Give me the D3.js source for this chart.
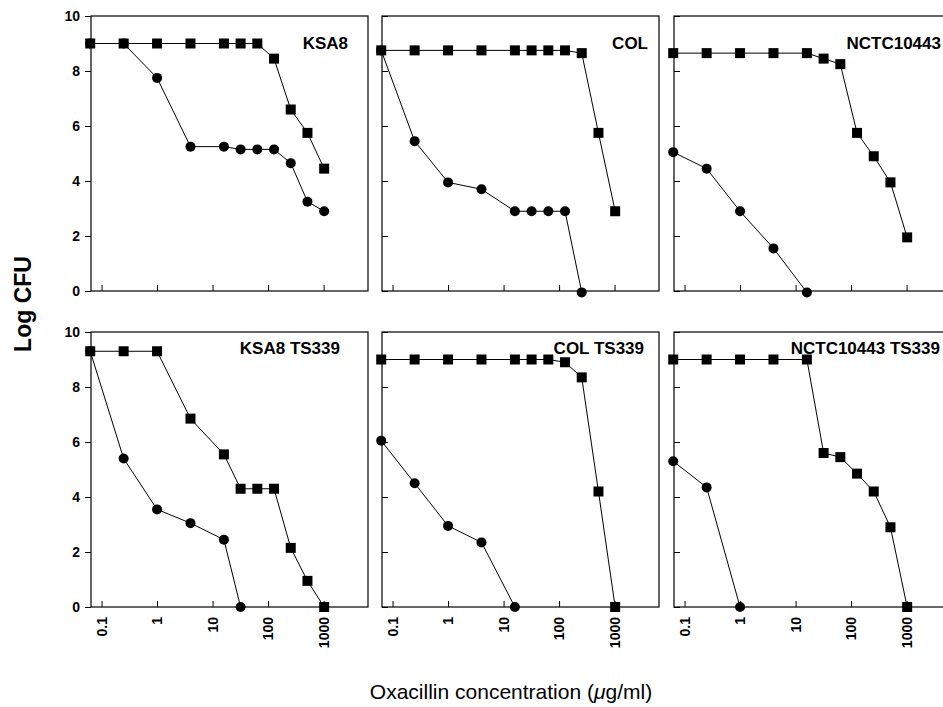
<!DOCTYPE html>
<html>
<head>
<meta charset="utf-8">
<script src="https://cdn.jsdelivr.net/npm/d3@7"></script>
<style>
  body { margin: 0; background: #fff; }
  svg text { font-family: "Liberation Sans", Arial, Helvetica, sans-serif; fill: #000; }
</style>
</head>
<body>
<script>

// oxacillin concentrations (ug/ml), same for every panel
var conc = [0.0625, 0.25, 1, 4, 16, 32, 64, 128, 256, 512, 1024]

var titles = ["KSA8", "COL", "NCTC10443", "KSA8 TS339", "COL TS339", "NCTC10443 TS339"]

// squares
var ksa8_sq = [9.0, 9.0, 9.0, 9.0, 9.0, 9.0, 9.0, 8.45, 6.6, 5.75, 4.45]
var col_sq = [8.75, 8.75, 8.75, 8.75, 8.75, 8.75, 8.75, 8.75, 8.65, 5.75, 2.9]
var nctc_sq = [8.65, 8.65, 8.65, 8.65, 8.65, 8.45, 8.25, 5.75, 4.9, 3.95, 1.95]
var ksa8ts_sq = [9.3, 9.3, 9.3, 6.85, 5.55, 4.3, 4.3, 4.3, 2.15, 0.95, 0]
var colts_sq = [9.0, 9.0, 9.0, 9.0, 9.0, 9.0, 9.0, 8.9, 8.35, 4.2, 0]
var nctcts_sq = [9.0, 9.0, 9.0, 9.0, 9.0, 5.6, 5.45, 4.85, 4.2, 2.9, 0]

// circles (series stop once they reach 0)
var ksa8_ci = [9.0, 9.0, 7.75, 5.25, 5.25, 5.15, 5.15, 5.15, 4.65, 3.25, 2.9]
var col_ci = [8.75, 5.45, 3.95, 3.7, 2.9, 2.9, 2.9, 2.9, -0.05]
var nctc_ci = [5.05, 4.45, 2.9, 1.55, -0.05]
var ksa8ts_ci = [9.3, 5.4, 3.55, 3.05, 2.45, 0]
var colts_ci = [6.05, 4.5, 2.95, 2.35, 0]
var nctcts_ci = [5.3, 4.35, 0]

var squares = [ksa8_sq, col_sq, nctc_sq, ksa8ts_sq, colts_sq, nctcts_sq]
var circles = [ksa8_ci, col_ci, nctc_ci, ksa8ts_ci, colts_ci, nctcts_ci]

var xTicks = [0.1, 1, 10, 100, 1000]
var yTicks = [0, 2, 4, 6, 8, 10]

// layout
var colX = [91, 382, 674], rowY = [16, 332]
var pw = 277, ph = 275
var titleInset = [20, 11, 10, 28, 15, 11]

var svg = d3.select("body").append("svg")
    .attr("width", 943)
    .attr("height", 707)

var x = d3.scaleLog()
    .domain([Math.pow(10, -1.19), Math.pow(10, 3.8)])
    .range([0, pw])
var y = d3.scaleLinear()
    .domain([0, 10])
    .range([ph, 0])

var line = d3.line()
    .x(function(d) { return x(d[0]); })
    .y(function(d) { return y(d[1]); })

titles.forEach(function(t, i) {
  var col = i % 3, row = Math.floor(i / 3)
  var g = svg.append("g")
      .attr("transform", "translate(" + colX[col] + "," + rowY[row] + ")")

  var sq = squares[i].map(function(v, j) { return [conc[j], v]; })
  var ci = circles[i].map(function(v, j) { return [conc[j], v]; })

  // x axis, ticks pointing inward
  var xa = g.append("g")
      .attr("transform", "translate(0," + ph + ")")
      .call(d3.axisBottom(x).tickValues(xTicks).tickSizeInner(-6).tickSizeOuter(0)
        .tickFormat(function(d) { return row == 1 ? String(d) : ""; }))
  xa.select(".domain").remove()
  xa.selectAll("line").attr("stroke", "#000")
  xa.selectAll("text")
      .attr("transform", "rotate(-90)")
      .attr("text-anchor", "end")
      .attr("x", -10)
      .attr("y", 0)
      .attr("dy", "0.35em")
      .style("font-size", "14px")
      .style("font-weight", "bold")

  // y axis, labels only on the left column
  var ya = g.append("g")
  if (col == 0) {
    ya.call(d3.axisLeft(y).tickValues(yTicks).tickSize(6).tickPadding(5))
    ya.selectAll("text")
        .style("font-size", "14px")
        .style("font-weight", "bold")
  } else {
    ya.call(d3.axisLeft(y).tickValues(yTicks).tickSizeInner(-6).tickSizeOuter(0).tickFormat(""))
  }
  ya.select(".domain").remove()
  ya.selectAll("line").attr("stroke", "#000")

  g.append("rect")
      .attr("width", pw)
      .attr("height", ph)
      .attr("fill", "none")
      .attr("stroke", "#000")
      .attr("stroke-width", 1.2)

  g.append("path").datum(ci)
      .attr("d", line)
      .attr("fill", "none")
      .attr("stroke", "#000")
      .attr("stroke-width", 1)
  g.append("path").datum(sq)
      .attr("d", line)
      .attr("fill", "none")
      .attr("stroke", "#000")
      .attr("stroke-width", 1)

  g.selectAll(".dot").data(ci)
    .enter().append("circle")
      .attr("class", "dot")
      .attr("cx", function(d) { return x(d[0]); })
      .attr("cy", function(d) { return y(d[1]); })
      .attr("r", 5)
      .attr("fill", "#000")

  g.selectAll(".sq").data(sq)
    .enter().append("rect")
      .attr("class", "sq")
      .attr("x", function(d) { return x(d[0]) - 5; })
      .attr("y", function(d) { return y(d[1]) - 5; })
      .attr("width", 10)
      .attr("height", 10)
      .attr("fill", "#000")

  g.append("text")
      .attr("x", pw - titleInset[i])
      .attr("y", row == 0 ? 33 : 22)
      .attr("text-anchor", "end")
      .style("font-size", "17px")
      .style("font-weight", "bold")
      .text(t)
})

svg.append("text")
    .attr("transform", "translate(31,304) rotate(-90)")
    .attr("text-anchor", "middle")
    .style("font-size", "23px")
    .style("font-weight", "bold")
    .text("Log CFU")

var xt = svg.append("text")
    .attr("x", 511)
    .attr("y", 699)
    .attr("text-anchor", "middle")
    .style("font-size", "21px")
xt.append("tspan").text("Oxacillin concentration (")
xt.append("tspan").style("font-style", "italic").text("\u03BC")
xt.append("tspan").text("g/ml)")

</script>
</body>
</html>
